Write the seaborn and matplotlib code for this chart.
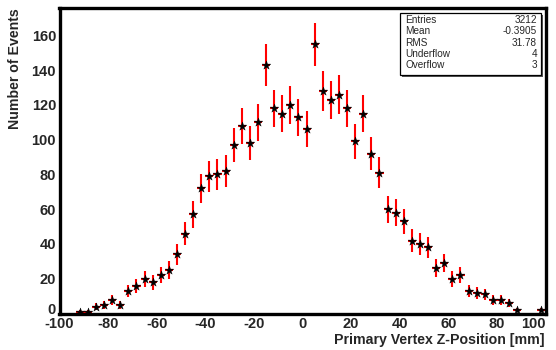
import numpy as np
import pandas as pd
import matplotlib
matplotlib.use("Agg")
import matplotlib.pyplot as plt
from matplotlib.patches import Rectangle
from matplotlib.ticker import MultipleLocator
from matplotlib.transforms import ScaledTranslation
import seaborn as sns

# Histogram binning of the primary vertex z-position
z_min, z_max, n_bins = -100.0, 100.0, 60

# Events per bin
counts = [0, 0, 1, 1, 4, 5, 8, 5, 13, 16,
          20, 18, 22, 25, 34, 46, 57, 72, 79, 80,
          82, 97, 108, 98, 110, 143, 118, 115, 120, 113,
          106, 155, 128, 123, 126, 118, 99, 115, 92, 81,
          60, 58, 53, 42, 40, 38, 26, 29, 20, 22,
          13, 12, 11, 8, 8, 6, 2, 0, 0, 2]

# Statistics box entries
stat_names = ["Entries", "Mean", "RMS", "Underflow", "Overflow"]
stat_values = ["3212", "-0.3905", "31.78", "4", "3"]

x_ticks = [-100, -80, -60, -40, -20, 0, 20, 40, 60, 80, 100]
y_ticks = [0, 20, 40, 60, 80, 100, 120, 140, 160]

x_title = "Primary Vertex Z-Position [mm]"
y_title = "Number of Events"

edges = np.linspace(z_min, z_max, n_bins + 1)
df = pd.DataFrame({
    "z": 0.5 * (edges[:-1] + edges[1:]),
    "n": np.asarray(counts, dtype=float),
})
df["err"] = np.sqrt(df["n"])
half_width = 0.5 * (edges[1] - edges[0])
filled = df[df["n"] > 0]

sns.set_style("white")
plt.rcParams["font.family"] = ["Liberation Sans", "DejaVu Sans"]
plt.rcParams["axes.unicode_minus"] = False

W, H = 556, 350
fig = plt.figure(figsize=(W / 100, H / 100), dpi=100)
ax = fig.add_axes([59.5 / W, 1 - 313.5 / H, (545.5 - 59.5) / W, (313.5 - 8) / H])

# Poisson error bars
ax.errorbar(filled["z"], filled["n"], yerr=filled["err"], xerr=half_width,
            fmt="none", ecolor="#ff0000", elinewidth=1.5, capsize=0, zorder=2)
sns.scatterplot(data=filled, x="z", y="n", marker="*", s=42, color="black",
                edgecolor="black", linewidth=0.3, ax=ax, zorder=3, legend=False)

ymax = (df["n"] + df["err"]).max() * 1.05
ax.set_xlim(z_min, z_max)
ax.set_ylim(0, ymax)
ax.set_xlabel("")
ax.set_ylabel("")

ax.set_xticks(x_ticks)
ax.set_xticklabels([str(v) for v in x_ticks], fontweight="bold")
ax.set_yticks(y_ticks)
ax.set_yticklabels([str(v) for v in y_ticks], fontweight="bold")
ax.xaxis.set_minor_locator(MultipleLocator(5))
ax.yaxis.set_minor_locator(MultipleLocator(5))
ax.tick_params(axis="both", which="both", direction="in", color="black",
               width=1.0, labelsize=10.5, pad=2.5,
               top=False, right=False)
ax.tick_params(axis="x", which="major", length=5.5)
ax.tick_params(axis="x", which="minor", length=2.6)
ax.tick_params(axis="y", which="major", length=11)
ax.tick_params(axis="y", which="minor", length=5.5)

# keep the last x label inside the canvas, lift the y "0" off the corner
xlabels = ax.get_xticklabels()
xlabels[-1].set_horizontalalignment("right")
ylabels = ax.get_yticklabels()
ylabels[0].set_transform(ylabels[0].get_transform()
                         + ScaledTranslation(0, 5 / 100, fig.dpi_scale_trans))

for sp in ax.spines.values():
    sp.set_visible(True)
    sp.set_color("black")
    sp.set_linewidth(2.4)

fig.text(545 / W, 1 - 340 / H, x_title, ha="right", va="center",
         fontsize=10.2, fontweight="bold")
fig.text(15 / W, 1 - 8 / H, y_title, ha="center", va="top",
         rotation=90, fontsize=10.2, fontweight="bold")

# Statistics box with drop shadow
bx0, by0, bx1, by1 = 400, 13, 541, 75
shadow = Rectangle(((bx0 + 2) / W, 1 - (by1 + 2) / H), (bx1 - bx0) / W, (by1 - by0) / H,
                   transform=fig.transFigure, facecolor="#555555", edgecolor="none", zorder=5)
box = Rectangle((bx0 / W, 1 - by1 / H), (bx1 - bx0) / W, (by1 - by0) / H,
                transform=fig.transFigure, facecolor="white", edgecolor="black",
                linewidth=0.9, zorder=6)
fig.patches.extend([shadow, box])
row_y = [20, 31.5, 42.7, 54, 65]
for name, val, ry in zip(stat_names, stat_values, row_y):
    fig.text(405 / W, 1 - ry / H, name, ha="left", va="center", fontsize=7.2, zorder=7)
    fig.text(537 / W, 1 - ry / H, val, ha="right", va="center", fontsize=7.2, zorder=7)

fig.savefig("out.png", dpi=100)
